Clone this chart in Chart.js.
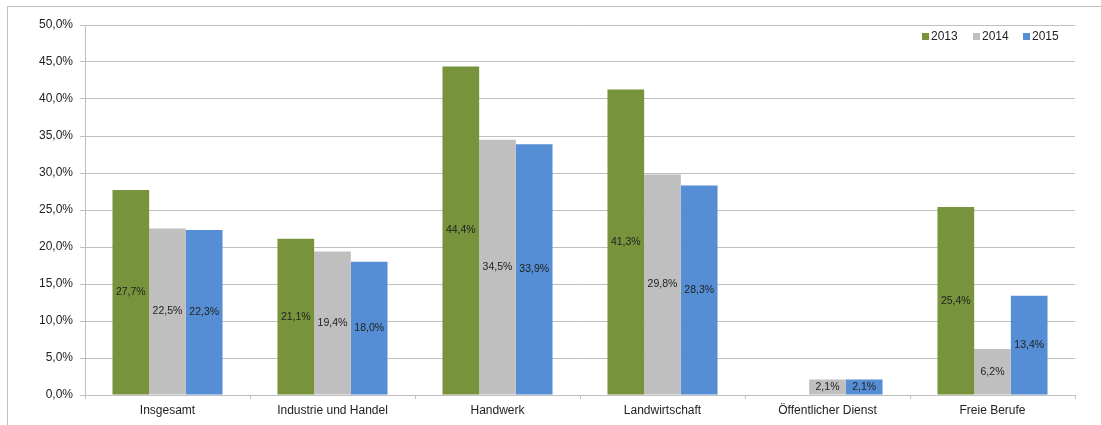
<!DOCTYPE html>
<html>
<head>
<meta charset="utf-8">
<script src="https://cdn.jsdelivr.net/npm/chart.js@4"></script>
<style>
  html, body { margin: 0; padding: 0; background: #fff; }
  #wrap { width: 1101px; height: 425px; position: relative; }
</style>
</head>
<body>
<div id="wrap"><canvas id="chart"></canvas></div>
<script>
const categories = ['Insgesamt', 'Industrie und Handel', 'Handwerk', 'Landwirtschaft', 'Öffentlicher Dienst', 'Freie Berufe'];
const years = ['2013', '2014', '2015'];
const values2013 = [27.7, 21.1, 44.4, 41.3, null, 25.4];
const values2014 = [22.5, 19.4, 34.5, 29.8, 2.1, 6.2];
const values2015 = [22.3, 18.0, 33.9, 28.3, 2.1, 13.4];
const yTicks = [0, 5, 10, 15, 20, 25, 30, 35, 40, 45, 50];

const colors = ['#77933C', '#BFBFBF', '#558ED5'];
const FONT = '"Liberation Sans", Arial, sans-serif';

const fmt = v => v.toFixed(1).replace('.', ',') + '%';

// outer frame of the chart object
const framePlugin = {
    id: 'frame',
    beforeDraw(chart) {
        const ctx = chart.ctx;
        ctx.save();
        ctx.strokeStyle = '#BFBFBF';
        ctx.lineWidth = 1;
        ctx.strokeRect(7.5, 6.5, 1200, 600);
        ctx.restore();
    }
};

// value labels in the middle of each bar
const valueLabels = {
    id: 'valueLabels',
    afterDatasetsDraw(chart) {
        const ctx = chart.ctx;
        ctx.save();
        ctx.font = '10.5px ' + FONT;
        ctx.fillStyle = '#222';
        ctx.textAlign = 'center';
        ctx.textBaseline = 'middle';
        chart.data.datasets.forEach((ds, i) => {
            chart.getDatasetMeta(i).data.forEach((bar, j) => {
                const v = ds.data[j];
                if (v === null || v === undefined) return;
                ctx.fillText(fmt(v), bar.x, (bar.y + bar.base) / 2);
            });
        });
        ctx.restore();
    }
};

// legend inside the plot, top right
const legendBox = {
    id: 'legendBox',
    afterDraw(chart) {
        const ctx = chart.ctx;
        const xs = [922, 973, 1023];
        const y = 37;
        ctx.save();
        ctx.font = '12px ' + FONT;
        ctx.textBaseline = 'middle';
        chart.data.datasets.forEach((ds, i) => {
            ctx.fillStyle = ds.backgroundColor;
            ctx.fillRect(xs[i], y - 4, 7, 7);
            ctx.fillStyle = '#222';
            ctx.fillText(ds.label, xs[i] + 9, y);
        });
        ctx.restore();
    }
};

new Chart(document.getElementById('chart'), {
    type: 'bar',
    data: {
        labels: categories,
        datasets: [
            { label: years[0], data: values2013, backgroundColor: colors[0] },
            { label: years[1], data: values2014, backgroundColor: colors[1] },
            { label: years[2], data: values2015, backgroundColor: colors[2] }
        ]
    },
    options: {
        responsive: true,
        maintainAspectRatio: false,
        animation: false,
        layout: { padding: { top: 25, right: 26, left: 0, bottom: 0 } },
        datasets: { bar: { categoryPercentage: 0.667, barPercentage: 1.0 } },
        plugins: {
            legend: { display: false },
            tooltip: { enabled: false }
        },
        scales: {
            x: {
                grid: { display: true, drawOnChartArea: false, color: '#BFBFBF', tickLength: 4 },
                border: { color: '#BFBFBF' },
                ticks: { color: '#222', font: { family: FONT, size: 12 }, padding: 4 },
                afterFit: s => { s.height = 30; }
            },
            y: {
                min: 0,
                max: 50,
                afterBuildTicks: s => { s.ticks = yTicks.map(v => ({ value: v })); },
                grid: { color: '#BFBFBF', tickLength: 5 },
                border: { color: '#BFBFBF' },
                ticks: {
                    color: '#222',
                    font: { family: FONT, size: 12 },
                    padding: 7,
                    callback: v => fmt(v)
                },
                afterFit: s => { s.width = 85; }
            }
        }
    },
    plugins: [framePlugin, valueLabels, legendBox]
});
</script>
</body>
</html>
